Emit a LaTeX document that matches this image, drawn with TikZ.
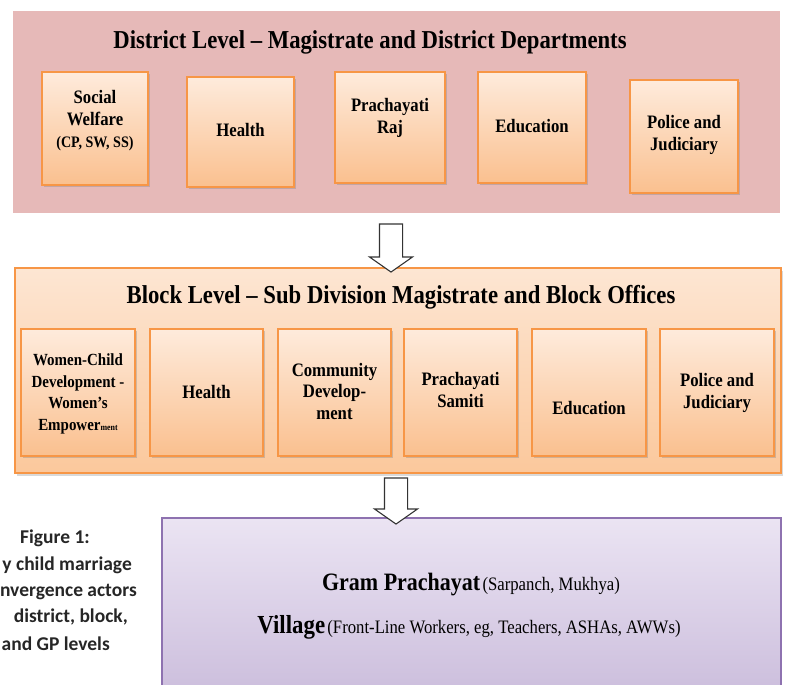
\documentclass[tikz,border=0pt]{standalone}
\usepackage{fontspec}
\setmainfont{Liberation Serif}[FakeStretch=0.88]
\newfontfamily\capfont{Carlito}
\usepackage{tikz}
\usetikzlibrary{shapes.arrows, shadows}

\definecolor{distpink}{HTML}{E6B9B8}
\definecolor{boxtop}{HTML}{FEEBDC}
\definecolor{boxbot}{HTML}{FAC08F}
\definecolor{boxline}{HTML}{F79646}
\definecolor{blktop}{HTML}{FDE6D3}
\definecolor{blkbot}{HTML}{FBC89C}
\definecolor{gptop}{HTML}{EBE4F3}
\definecolor{gpbot}{HTML}{CBBDDC}
\definecolor{gpline}{HTML}{8E72B0}

\begin{document}
\begin{tikzpicture}[x=1pt, y=-1pt,
	panel/.style={rectangle, inner sep=0pt},
	dept/.style={rectangle, draw=boxline, line width=1.2pt, top color=boxtop, bottom color=boxbot,
		drop shadow={shadow xshift=1.5pt, shadow yshift=-2pt, opacity=.35}, inner sep=0pt},
	depttext/.style={align=center, font=\fontsize{19}{22}\selectfont\bfseries},
	leveltitle/.style={font=\fontsize{25.8}{30}\selectfont\bfseries},
	captext/.style={text=black!85, inner sep=0pt, font=\capfont\bfseries\fontsize{19.5}{24}\selectfont},
	downarrow/.style={single arrow, draw=black!80, fill=white, line width=1.1pt, inner xsep=0pt, inner ysep=11pt,
		single arrow head extend=10pt, single arrow tip angle=110, rotate=-90}]
	\clip (0,0) rectangle (787,685);
	\useasboundingbox (0,0) rectangle (787,685);
	% panels
	\node[panel, fill=distpink, minimum width=767pt, minimum height=202pt] (dist) at (396.5,112) {};
	\node[panel, draw=boxline, line width=1.2pt, top color=blktop, bottom color=blkbot, minimum width=766pt, minimum height=205pt,
		drop shadow={shadow xshift=1.5pt, shadow yshift=-2.5pt, opacity=.3}] (blk) at (398,370.5) {};
	\node[panel, draw=gpline, line width=1.2pt, top color=gptop, bottom color=gpbot, minimum width=619pt, minimum height=180pt] (gp) at (471.5,608) {};
	\node[leveltitle] (dtitle) at (370,42) {District Level – Magistrate and District Departments};
	\node[leveltitle] (btitle) at (401,297) {Block Level – Sub Division Magistrate and Block Offices};
	% district departments
	\foreach[count=\i] \xl/\xr/\yt/\yb/\ty/\dtxt in {
		42/148/72/185/121/{Social\\Welfare\\{\fontsize{16}{22}\selectfont(CP, SW, SS)}},
		187/294/77/187/130/{Health},
		335/445/72/183/118/{Prachayati\\Raj},
		478/586/72/183/126/{Education},
		630/738/80/193/135/{Police and\\Judiciary}} {
		\node[dept, minimum width={(\xr-\xl)*1pt}, minimum height={(\yb-\yt)*1pt}] (d-\i) at ({(\xl+\xr)/2},{(\yt+\yb)/2}) {};
		\node[depttext] (dt-\i) at ({(\xl+\xr)/2},\ty) {\dtxt};
	}
	% block offices
	\foreach[count=\i] \xl/\xr/\ty/\fs/\btxt in {
		21/135/394/17/{Women-Child\\Development -\\Women's\\Empower{\fontsize{9}{9}\selectfont ment}},
		150/263/392/19/{Health},
		278/391/391/19/{Community\\Develop-\\ment},
		404/517/390/19/{Prachayati\\Samiti},
		532/646/408/19/{Education},
		660/774/393/19/{Police and\\Judiciary}} {
		\node[dept, minimum width={(\xr-\xl)*1pt}, minimum height=127pt] (b-\i) at ({(\xl+\xr)/2},392.5) {};
		\node[depttext, font=\fontsize{\fs}{21.5}\selectfont\bfseries] (bt-\i) at ({(\xl+\xr)/2},\ty) {\btxt};
	}
	% gram prachayat and village
	\node (gp-1) at (471,585) {{\fontsize{25}{30}\selectfont\bfseries Gram Prachayat} {\fontsize{19}{24}\selectfont(Sarpanch, Mukhya)}};
	\node (gp-2) at (469,627) {{\fontsize{26}{30}\selectfont\bfseries Village} {\fontsize{19}{24}\selectfont(Front-Line Workers, eg, Teachers, ASHAs, AWWs)}};
	% arrows between levels
	\node[downarrow, minimum height=48pt] (a-1) at (391,244) {};
	\node[downarrow, minimum height=46pt] (a-2) at (396,497) {};
	% figure caption, cut at the left edge as printed
	\node[captext] (cap-1) at (55,538) {Figure 1:};
	\foreach[count=\i from 2] \ex/\ey/\ctxt in {132/565/{y child marriage}, 137/592/{nvergence actors},
		128/617/{district, block,}, 110/644/{and GP levels}} {
		\node[captext, anchor=east] (cap-\i) at (\ex,\ey) {\ctxt};
	}
\end{tikzpicture}
\end{document}
